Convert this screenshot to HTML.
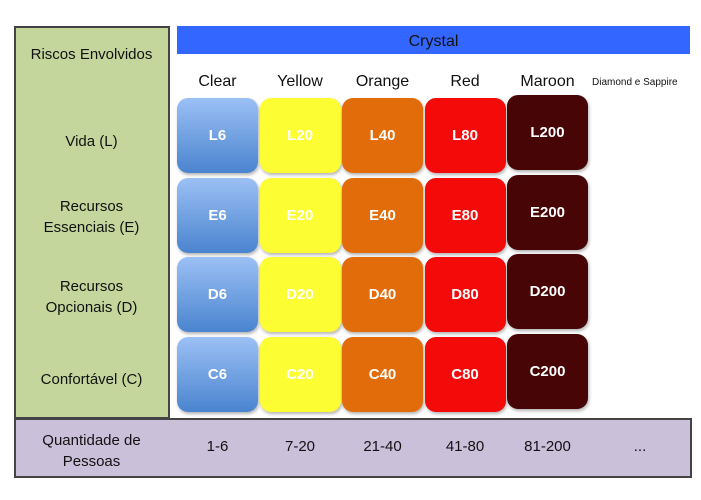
<!DOCTYPE html>
<html><head><meta charset="utf-8"><style>
body{margin:0;width:701px;height:500px;background:#fff;position:relative;overflow:hidden;font-family:"Liberation Sans",sans-serif;}
.abs{position:absolute;}
.lbl{position:absolute;left:15px;width:153px;text-align:center;font-size:15px;color:#111;line-height:21px;}
.tile{position:absolute;border-radius:11px;color:#fff;font-weight:bold;font-size:15px;display:flex;align-items:center;justify-content:center;box-shadow:1px 2px 3px rgba(0,0,0,0.3);}
.hdr{position:absolute;top:73px;font-size:16px;text-align:center;color:#111;}
.bot{position:absolute;top:438px;font-size:15px;text-align:center;color:#111;}
</style></head><body>
<div class="abs" style="left:14px;top:26px;width:152px;height:389px;background:#c5d69c;border:2px solid #444;"></div>
<div class="lbl" style="top:44px">Riscos Envolvidos</div>
<div class="abs" style="left:14px;top:418px;width:674px;height:56px;background:#cbc0da;border:2px solid #444;"></div>
<div class="lbl" style="top:430px;left:15px">Quantidade de<br>Pessoas</div>
<div class="abs" style="left:177px;top:26px;width:513px;height:28px;background:#3366ff;color:#111;font-size:16px;text-align:center;line-height:32px;">Crystal</div>
<div class="abs" style="left:592px;top:77px;font-size:10px;color:#111;">Diamond e Sappire</div>
<div class="bot" style="left:610px;width:60px;">...</div>
<div id="grid"></div>
<script>
const columns=["Clear","Yellow","Orange","Red","Maroon"];
const values=["6","20","40","80","200"];
const ranges=["1-6","7-20","21-40","41-80","81-200"];
const rowCodes=["L","E","D","C"];
const rowLabels=["Vida (L)","Recursos<br>Essenciais (E)","Recursos<br>Opcionais (D)","Confortável (C)"];
const colors=["linear-gradient(#9cc0f5,#4a84cf)","#fdfd33","#e36c0a","#f50a0a","#470505"];
const textColors=["#fff","#fff","#fff","#fff","#fff"];
const x0=177,colStep=82.5,tileW=81,y0=98,rowStep=79.5,tileH=75;
const g=document.getElementById('grid');
columns.forEach((c,i)=>{
  const h=document.createElement('div');h.className='hdr';
  
  
  h.style.left=(x0+i*colStep)+'px';h.style.width=tileW+'px';h.textContent=c;g.appendChild(h);
  const b=document.createElement('div');b.className='bot';
  
  
  b.style.left=(x0+i*colStep)+'px';b.style.width=tileW+'px';b.textContent=ranges[i];g.appendChild(b);
});
rowCodes.forEach((r,j)=>{
  const l=document.createElement('div');l.className='lbl';
  
  
  const multi=rowLabels[j].includes('<br>');
  l.style.top=(y0+j*rowStep+tileH/2-(multi?19:5))+'px';l.innerHTML=rowLabels[j];g.appendChild(l);
  columns.forEach((c,i)=>{
    const t=document.createElement('div');t.className='tile';
    
    
    t.style.left=(x0+i*colStep)+'px';t.style.top=(y0+j*rowStep-(i==4?3:0))+'px';
    t.style.width=tileW+'px';t.style.height=tileH+'px';
    t.style.background=colors[i];t.style.color=textColors[i];
    t.textContent=r+values[i];g.appendChild(t);
  });
});
</script>
</body></html>
